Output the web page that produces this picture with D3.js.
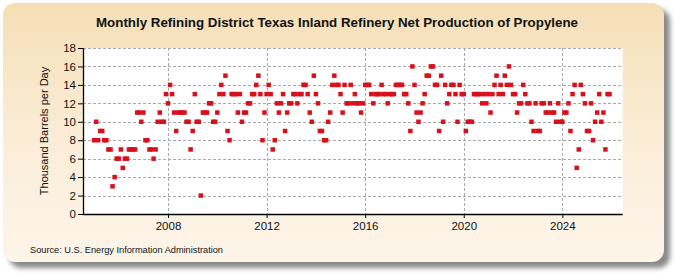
<!DOCTYPE html>
<html><head><meta charset="utf-8">
<script src="https://cdn.jsdelivr.net/npm/d3@7"></script>
<style>html,body{margin:0;padding:0;background:#fff;}svg{display:block;}</style>
</head><body>
<svg id="chart" width="675" height="275"></svg>
<script>
// ---- data ----
const title = "Monthly Refining District Texas Inland Refinery Net Production of Propylene";
const yLabel = "Thousand Barrels per Day";
const source = "Source: U.S. Energy Information Administration";
const startYear = 2005; // first month: Jan 2005
const yTicks = [0, 2, 4, 6, 8, 10, 12, 14, 16, 18];
const xTickYears = [2008, 2012, 2016, 2020, 2024];
// monthly values, Jan 2005 .. Dec 2025
const values2005_2009 = [
  8,10,8,9,9,8,8,7,7,3,4,6,
  6,7,5,6,6,7,7,7,7,11,11,10,
  11,8,8,7,7,6,7,10,11,10,10,13,
  12,14,13,11,9,11,11,11,11,10,10,7,
  9,13,10,10,2,11,11,11,12,12,10,10
];
const values2010_2014 = [
  11,13,14,13,15,9,8,13,13,13,11,13,
  10,11,11,12,12,13,13,14,15,13,8,11,
  13,14,13,7,8,12,11,12,13,9,11,12,
  12,13,13,12,13,13,14,14,13,11,10,15,
  13,12,9,9,8,8,10,11,14,15,14,14
];
const values2015_2019 = [
  13,11,14,12,12,14,12,13,12,12,11,12,
  14,14,14,13,12,13,13,13,14,13,13,12,
  13,13,13,14,14,14,14,13,13,12,9,16,
  14,11,10,11,12,13,15,15,16,16,14,14,
  9,15,10,14,12,13,14,14,13,10,14,13
];
const values2020_2025 = [
  13,9,10,10,10,13,13,13,13,12,13,12,
  13,11,13,14,15,13,14,13,15,14,16,14,
  13,13,11,12,12,14,13,12,12,10,9,12,
  9,9,12,12,11,11,12,11,11,10,12,10,
  10,11,11,12,9,13,14,5,7,14,13,12,
  9,9,12,8,10,11,13,10,11,7,13,13
];
const values = [].concat(values2005_2009, values2010_2014, values2015_2019, values2020_2025);
const data = values.map((v, i) => ({date: new Date(startYear, i, 1), value: v}));

// ---- layout ----
const svg = d3.select("#chart");
const W = 675, H = 275;
const plot = {left: 83, right: 622.7, top: 48, bottom: 214};

const defs = svg.append("defs");
const grad = defs.append("linearGradient").attr("id", "bg").attr("x1", 0).attr("y1", 0).attr("x2", 0).attr("y2", 1);
grad.append("stop").attr("offset", "0%").attr("stop-color", "#f5dfb6");
grad.append("stop").attr("offset", "55%").attr("stop-color", "#fbedd8");
grad.append("stop").attr("offset", "100%").attr("stop-color", "#fdf5ea");
const filt = defs.append("filter").attr("id", "blur").attr("x", "-5%").attr("y", "-5%").attr("width", "110%").attr("height", "110%");
filt.append("feGaussianBlur").attr("stdDeviation", 2.5);

// shadow + panel
svg.append("rect").attr("x", 9).attr("y", 9).attr("width", 661).attr("height", 259)
  .attr("rx", 12).attr("fill", "#8a8a8a").attr("filter", "url(#blur)");
svg.append("rect").attr("x", 3).attr("y", 3).attr("width", 661).attr("height", 259)
  .attr("rx", 12).attr("fill", "url(#bg)");

// plot background
svg.append("rect").attr("x", plot.left).attr("y", plot.top)
  .attr("width", plot.right - plot.left).attr("height", plot.bottom - plot.top).attr("fill", "#ffffff");

// scales
const x = d3.scaleTime()
  .domain([new Date(2004, 6, 20), new Date(2026, 5, 14)])
  .range([plot.left, plot.right]);
const y = d3.scaleLinear().domain([0, 18]).range([plot.bottom, plot.top]);

// grid
const grid = svg.append("g").attr("stroke", "#a9a9a9").attr("stroke-dasharray", "3,2").attr("stroke-width", 1);
grid.selectAll("line.h").data(yTicks.filter(d => d > 0)).join("line")
  .attr("x1", plot.left).attr("x2", plot.right)
  .attr("y1", d => Math.round(y(d)) + 0.5).attr("y2", d => Math.round(y(d)) + 0.5);
grid.selectAll("line.v").data(xTickYears).join("line")
  .attr("x1", d => Math.round(x(new Date(d, 0, 1))) + 0.5).attr("x2", d => Math.round(x(new Date(d, 0, 1))) + 0.5)
  .attr("y1", plot.top).attr("y2", plot.bottom);

// axes
const fontFam = "'Liberation Sans', Arial, sans-serif";
const yAxis = svg.append("g").attr("transform", `translate(${plot.left},0)`)
  .call(d3.axisLeft(y).tickValues(yTicks).tickSize(5).tickPadding(2).tickFormat(d3.format("d")));
const xAxis = svg.append("g").attr("transform", `translate(0,${plot.bottom})`)
  .call(d3.axisBottom(x).tickValues(xTickYears.map(d => new Date(d, 0, 1))).tickSize(4).tickPadding(4).tickFormat(d3.timeFormat("%Y")));
[yAxis, xAxis].forEach(g => {
  g.selectAll("text").attr("font-family", fontFam).attr("font-size", 11.5).attr("fill", "#111");
  g.selectAll("line").attr("stroke", "#000");
  g.select(".domain").attr("stroke", "#000").attr("stroke-width", 1.3);
});
xAxis.select(".domain").attr("d", `M${plot.left},0.5H${plot.right}`);
yAxis.select(".domain").attr("d", `M0.5,${plot.top}V${plot.bottom}`);

// points
svg.append("g").selectAll("rect").data(data).join("rect")
  .attr("x", d => x(d.date) - 2.25).attr("y", d => y(d.value) - 2.25)
  .attr("width", 4.5).attr("height", 4.5).attr("fill", "#d8101c");

// texts
svg.append("text").attr("x", 337).attr("y", 27).attr("text-anchor", "middle")
  .attr("font-family", fontFam).attr("font-weight", "bold").attr("font-size", 13.5)
  .attr("textLength", 482).attr("lengthAdjust", "spacingAndGlyphs").attr("fill", "#111").text(title);
svg.append("text").attr("transform", `translate(48,${(plot.top + plot.bottom) / 2}) rotate(-90)`)
  .attr("text-anchor", "middle").attr("font-family", fontFam).attr("font-size", 11)
  .attr("fill", "#111").text(yLabel);
svg.append("text").attr("x", 30).attr("y", 253)
  .attr("font-family", fontFam).attr("font-size", 9.5).attr("textLength", 193).attr("lengthAdjust", "spacingAndGlyphs")
  .attr("fill", "#111").text(source);
</script>
</body></html>
